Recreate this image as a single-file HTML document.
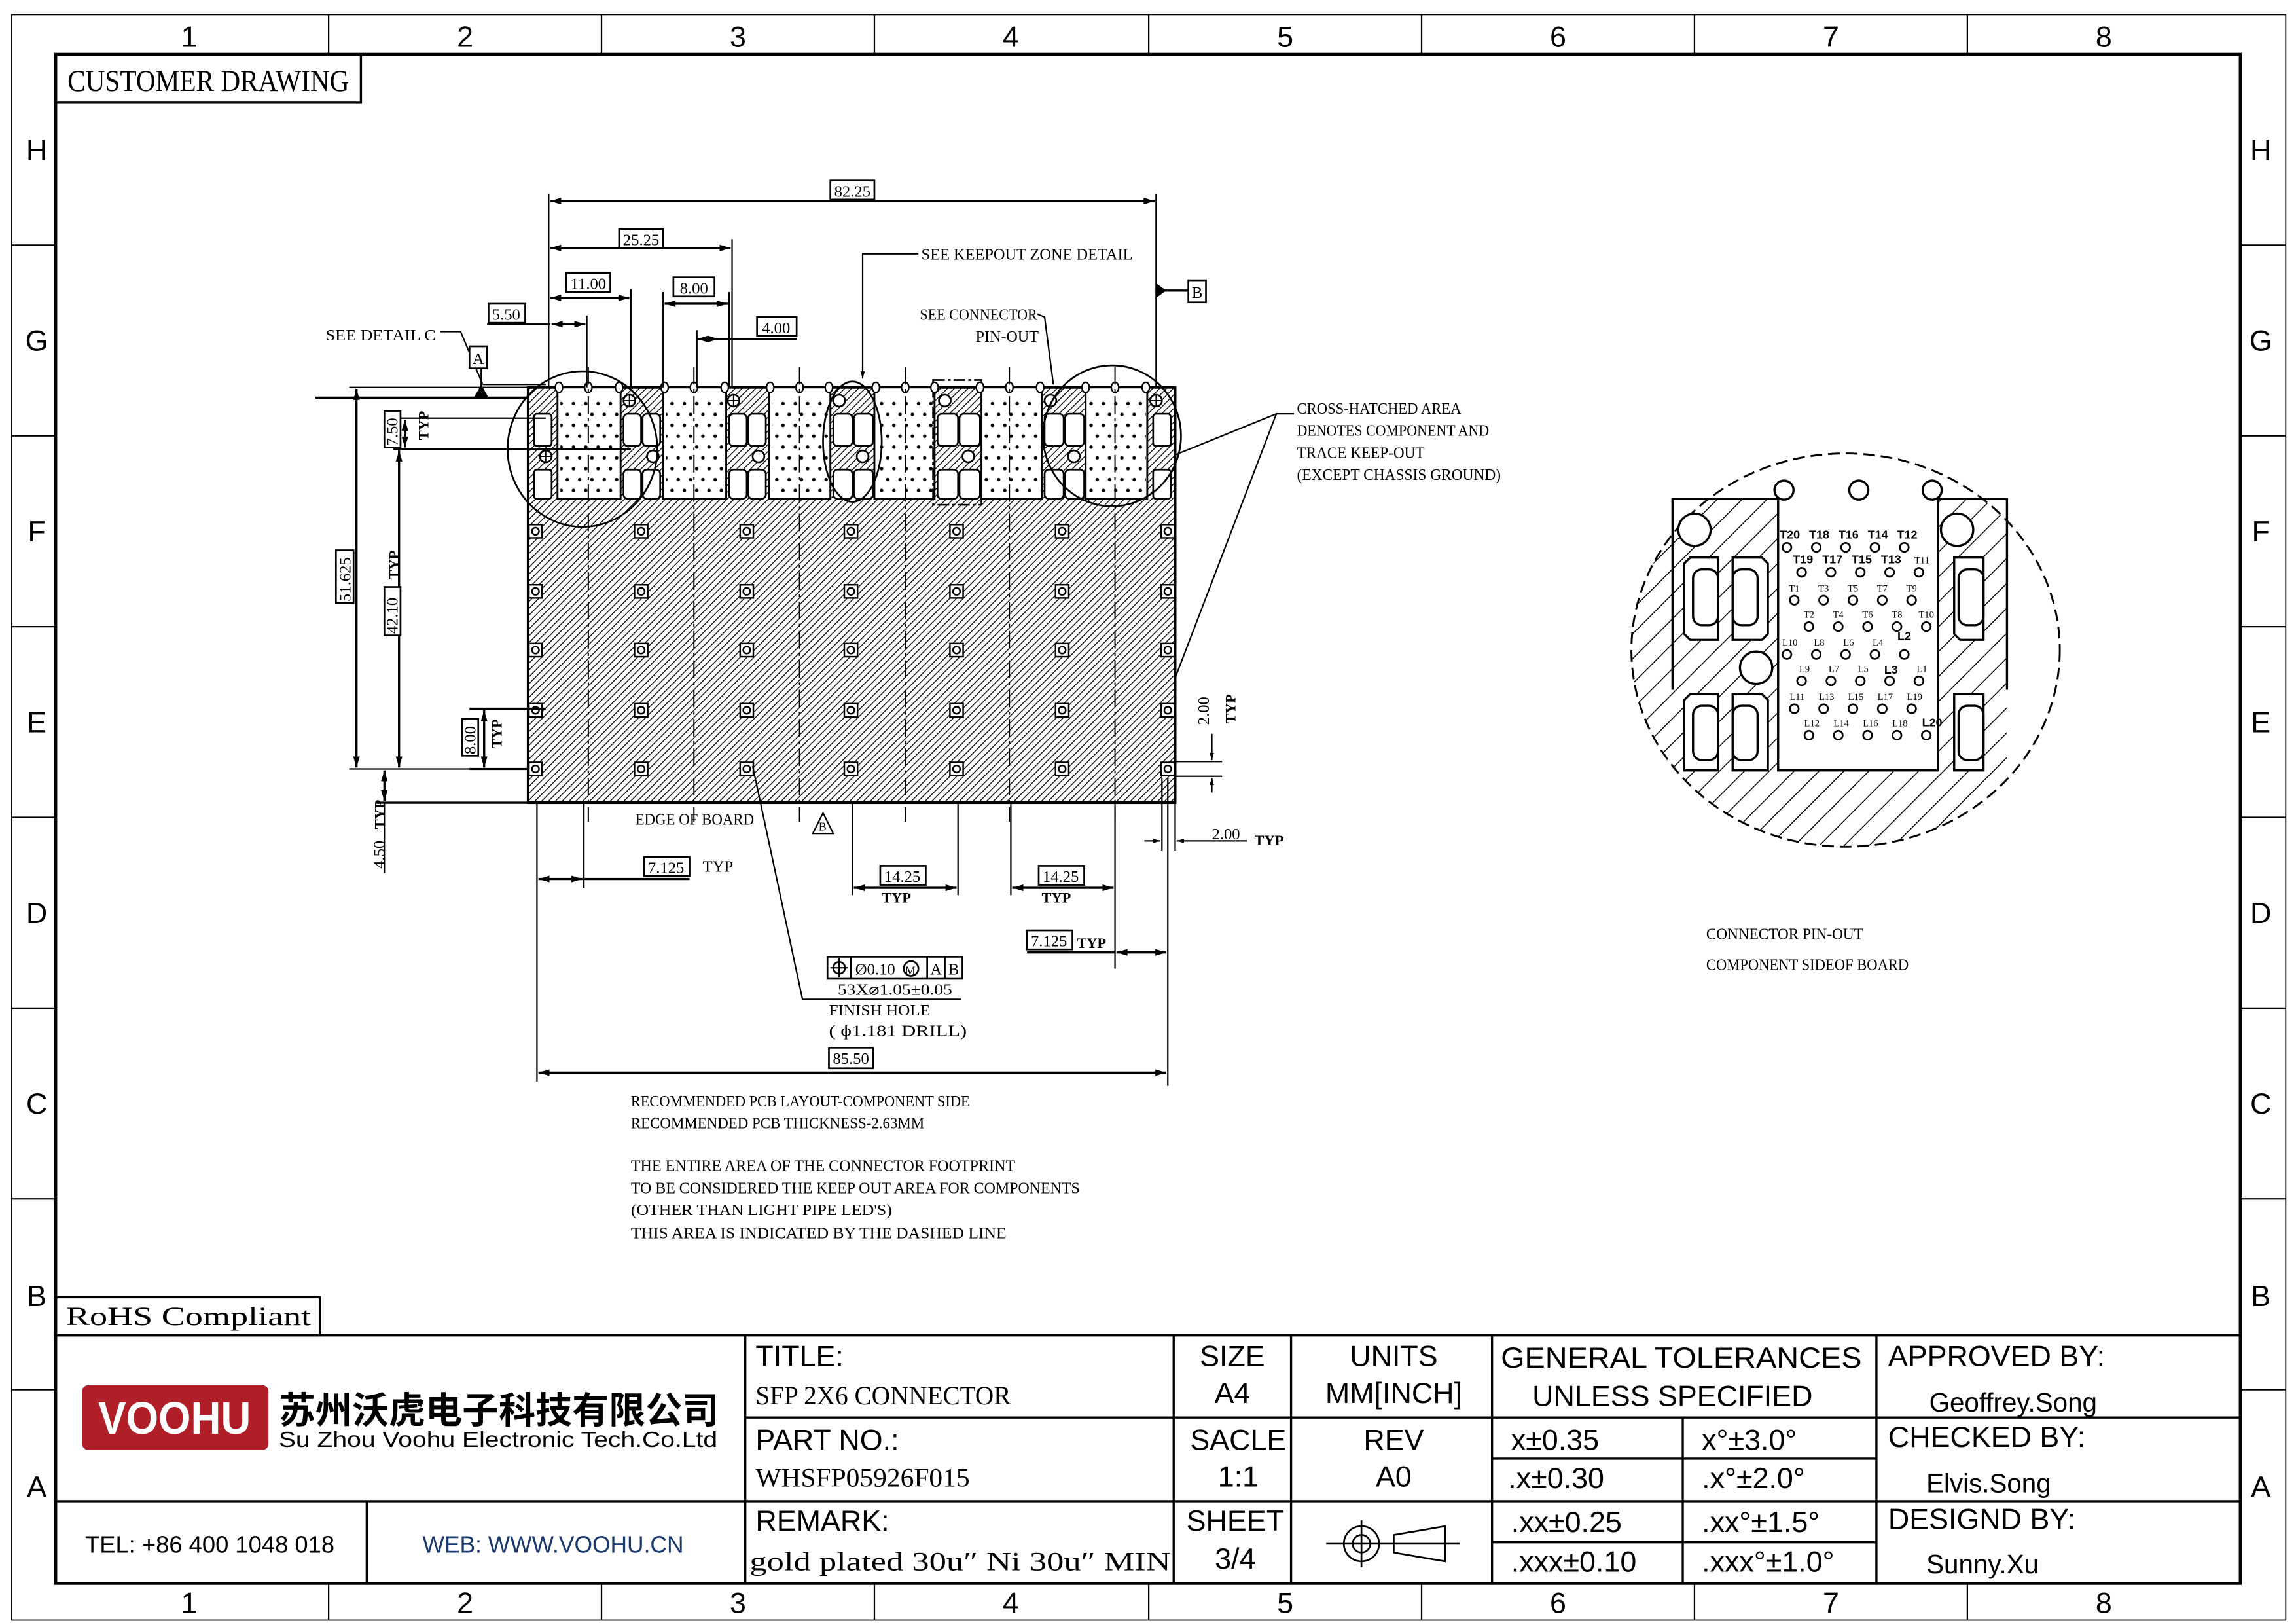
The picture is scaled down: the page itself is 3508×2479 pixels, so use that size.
<!DOCTYPE html>
<html><head><meta charset="utf-8"><style>
html,body{margin:0;padding:0;background:#fff;}
svg{display:block;}
.s{font-family:"Liberation Serif",serif;}
.a{font-family:"Liberation Sans","Noto Sans CJK SC",sans-serif;}
</style></head><body>
<svg width="3508" height="2479" viewBox="0 0 1565 1106" preserveAspectRatio="none" xmlns="http://www.w3.org/2000/svg">
<defs>
<pattern id="h" patternUnits="userSpaceOnUse" width="3.3" height="3.3" patternTransform="rotate(45)"><line x1="0" y1="0" x2="0" y2="3.3" stroke="#000" stroke-width="1.2"/></pattern>
<pattern id="hd" patternUnits="userSpaceOnUse" width="12" height="12" patternTransform="rotate(45)"><line x1="0" y1="0" x2="0" y2="12" stroke="#000" stroke-width="1.3"/></pattern>
<pattern id="dots" patternUnits="userSpaceOnUse" x="380" y="272" width="8.4" height="14.8"><circle cx="2.5" cy="3" r="1.2" fill="#000"/><circle cx="6.7" cy="10.4" r="1.2" fill="#000"/></pattern>
<marker id="ar" viewBox="0 0 10 10" refX="10" refY="5" markerWidth="7" markerHeight="5" orient="auto-start-reverse"><path d="M0,2 L10,5 L0,8 z" fill="#000"/></marker>
<g id="col" fill="#fff" stroke="#000" stroke-width="1.1"><rect x="-4.5" y="357.5" width="9" height="9"/><circle cx="0" cy="362" r="2.4"/><rect x="-4.5" y="398.5" width="9" height="9"/><circle cx="0" cy="403" r="2.4"/><rect x="-4.5" y="438.5" width="9" height="9"/><circle cx="0" cy="443" r="2.4"/><rect x="-4.5" y="479.5" width="9" height="9"/><circle cx="0" cy="484" r="2.4"/><rect x="-4.5" y="519.5" width="9" height="9"/><circle cx="0" cy="524" r="2.4"/></g>
</defs>
<rect width="1565" height="1106" fill="#fff"/>
<!-- frame -->
<g stroke="#000" fill="none">
<rect x="8" y="10" width="1550" height="1094" stroke-width="0.8"/>
<rect x="38" y="37" width="1489" height="1042" stroke-width="2"/>
<g stroke-width="1">
<line x1="224" y1="10" x2="224" y2="37"/><line x1="410" y1="10" x2="410" y2="37"/><line x1="596" y1="10" x2="596" y2="37"/><line x1="783" y1="10" x2="783" y2="37"/><line x1="969" y1="10" x2="969" y2="37"/><line x1="1155" y1="10" x2="1155" y2="37"/><line x1="1341" y1="10" x2="1341" y2="37"/>
<line x1="224" y1="1079" x2="224" y2="1104"/><line x1="410" y1="1079" x2="410" y2="1104"/><line x1="596" y1="1079" x2="596" y2="1104"/><line x1="783" y1="1079" x2="783" y2="1104"/><line x1="969" y1="1079" x2="969" y2="1104"/><line x1="1155" y1="1079" x2="1155" y2="1104"/><line x1="1341" y1="1079" x2="1341" y2="1104"/>
<line x1="8" y1="167" x2="38" y2="167"/><line x1="8" y1="297" x2="38" y2="297"/><line x1="8" y1="427" x2="38" y2="427"/><line x1="8" y1="557" x2="38" y2="557"/><line x1="8" y1="687" x2="38" y2="687"/><line x1="8" y1="817" x2="38" y2="817"/><line x1="8" y1="947" x2="38" y2="947"/>
<line x1="1527" y1="167" x2="1558" y2="167"/><line x1="1527" y1="297" x2="1558" y2="297"/><line x1="1527" y1="427" x2="1558" y2="427"/><line x1="1527" y1="557" x2="1558" y2="557"/><line x1="1527" y1="687" x2="1558" y2="687"/><line x1="1527" y1="817" x2="1558" y2="817"/><line x1="1527" y1="947" x2="1558" y2="947"/>
</g></g>
<g class="a" font-size="20" text-anchor="middle" fill="#000">
<text x="129" y="32">1</text><text x="317" y="32">2</text><text x="503" y="32">3</text><text x="689" y="32">4</text><text x="876" y="32">5</text><text x="1062" y="32">6</text><text x="1248" y="32">7</text><text x="1434" y="32">8</text>
<text x="129" y="1099">1</text><text x="317" y="1099">2</text><text x="503" y="1099">3</text><text x="689" y="1099">4</text><text x="876" y="1099">5</text><text x="1062" y="1099">6</text><text x="1248" y="1099">7</text><text x="1434" y="1099">8</text>
<text x="25" y="109">H</text><text x="25" y="239">G</text><text x="25" y="369">F</text><text x="25" y="499">E</text><text x="25" y="629">D</text><text x="25" y="759">C</text><text x="25" y="890">B</text><text x="25" y="1020">A</text>
<text x="1541" y="109">H</text><text x="1541" y="239">G</text><text x="1541" y="369">F</text><text x="1541" y="499">E</text><text x="1541" y="629">D</text><text x="1541" y="759">C</text><text x="1541" y="890">B</text><text x="1541" y="1020">A</text>
</g>
<rect x="38" y="37" width="208" height="33" fill="none" stroke="#000" stroke-width="1.5"/>
<text class="s" x="46" y="62" font-size="21" textLength="192" lengthAdjust="spacingAndGlyphs">CUSTOMER DRAWING</text>
<rect x="38" y="884" width="180" height="26" fill="none" stroke="#000" stroke-width="1.5"/>
<text class="s" x="45" y="903" font-size="18" textLength="167" lengthAdjust="spacingAndGlyphs">RoHS Compliant</text>

<!-- BOARD -->
<rect x="360" y="264" width="441" height="283" fill="url(#h)" stroke="#000" stroke-width="1.8"/>
<g fill="#fff" stroke="#000" stroke-width="1.3">
<rect x="380" y="264" width="43" height="76"/><rect x="452" y="264" width="43" height="76"/><rect x="524" y="264" width="42" height="76"/><rect x="596" y="264" width="41" height="76"/><rect x="669" y="264" width="41" height="76"/><rect x="740" y="264" width="42" height="76"/>
</g>
<g fill="url(#dots)">
<rect x="382" y="272" width="40" height="66"/><rect x="454" y="272" width="40" height="66"/><rect x="526" y="272" width="39" height="66"/><rect x="598" y="272" width="38" height="66"/><rect x="671" y="272" width="38" height="66"/><rect x="742" y="272" width="39" height="66"/>
</g>
<g fill="#fff" stroke="#000" stroke-width="1.2">
<rect x="364" y="282" width="12" height="22" rx="2"/><rect x="364" y="320" width="12" height="20" rx="2"/>
<rect x="786" y="282" width="12" height="22" rx="2"/><rect x="786" y="320" width="12" height="20" rx="2"/>
<rect x="425" y="282" width="12" height="22" rx="3"/><rect x="438" y="282" width="12" height="22" rx="3"/><rect x="425" y="320" width="12" height="20" rx="3"/><rect x="438" y="320" width="12" height="20" rx="3"/>
<rect x="497" y="282" width="12" height="22" rx="3"/><rect x="510" y="282" width="12" height="22" rx="3"/><rect x="497" y="320" width="12" height="20" rx="3"/><rect x="510" y="320" width="12" height="20" rx="3"/>
<rect x="568" y="282" width="13" height="22" rx="3"/><rect x="582" y="282" width="13" height="22" rx="3"/><rect x="568" y="320" width="13" height="20" rx="3"/><rect x="582" y="320" width="13" height="20" rx="3"/>
<rect x="639" y="282" width="14" height="22" rx="3"/><rect x="654" y="282" width="14" height="22" rx="3"/><rect x="639" y="320" width="14" height="20" rx="3"/><rect x="654" y="320" width="14" height="20" rx="3"/>
<rect x="712" y="282" width="13" height="22" rx="3"/><rect x="726" y="282" width="13" height="22" rx="3"/><rect x="712" y="320" width="13" height="20" rx="3"/><rect x="726" y="320" width="13" height="20" rx="3"/>
<circle cx="445" cy="311" r="4"/><circle cx="517" cy="311" r="4"/><circle cx="588" cy="311" r="4"/><circle cx="660" cy="311" r="4"/><circle cx="732" cy="311" r="4"/>
<circle cx="572" cy="273" r="4"/><circle cx="644" cy="273" r="4"/><circle cx="716" cy="273" r="4"/>
<circle cx="429" cy="273" r="4"/><circle cx="500" cy="273" r="4"/><circle cx="788" cy="273" r="4"/><circle cx="372" cy="311" r="4"/>
</g>
<g stroke="#000" stroke-width="0.8"><line x1="425" y1="273" x2="433" y2="273"/><line x1="429" y1="269" x2="429" y2="277"/><line x1="496" y1="273" x2="504" y2="273"/><line x1="500" y1="269" x2="500" y2="277"/><line x1="784" y1="273" x2="792" y2="273"/><line x1="788" y1="269" x2="788" y2="277"/><line x1="368" y1="311" x2="376" y2="311"/><line x1="372" y1="307" x2="372" y2="315"/></g>
<rect x="636" y="259" width="33" height="85" fill="none" stroke="#000" stroke-width="1.2" stroke-dasharray="8 2 2 2"/>
<line x1="355" y1="264" x2="801" y2="264" stroke="#000" stroke-width="0.9" stroke-dasharray="6 3"/>
<g fill="#fff" stroke="#000" stroke-width="1">
<ellipse cx="381" cy="264" rx="2.5" ry="3.5"/><ellipse cx="401" cy="264" rx="2.5" ry="3.5"/><ellipse cx="422" cy="264" rx="2.5" ry="3.5"/><ellipse cx="453" cy="264" rx="2.5" ry="3.5"/><ellipse cx="473" cy="264" rx="2.5" ry="3.5"/><ellipse cx="494" cy="264" rx="2.5" ry="3.5"/><ellipse cx="525" cy="264" rx="2.5" ry="3.5"/><ellipse cx="545" cy="264" rx="2.5" ry="3.5"/><ellipse cx="565" cy="264" rx="2.5" ry="3.5"/><ellipse cx="597" cy="264" rx="2.5" ry="3.5"/><ellipse cx="617" cy="264" rx="2.5" ry="3.5"/><ellipse cx="637" cy="264" rx="2.5" ry="3.5"/><ellipse cx="668" cy="264" rx="2.5" ry="3.5"/><ellipse cx="688" cy="264" rx="2.5" ry="3.5"/><ellipse cx="709" cy="264" rx="2.5" ry="3.5"/><ellipse cx="740" cy="264" rx="2.5" ry="3.5"/><ellipse cx="760" cy="264" rx="2.5" ry="3.5"/><ellipse cx="781" cy="264" rx="2.5" ry="3.5"/>
</g>
<use href="#col" x="365"/><use href="#col" x="437"/><use href="#col" x="509"/><use href="#col" x="580"/><use href="#col" x="652"/><use href="#col" x="724"/><use href="#col" x="796"/>
<g stroke="#000" stroke-width="0.9" stroke-dasharray="12 3 2 3">
<line x1="401" y1="250" x2="401" y2="560"/><line x1="473" y1="250" x2="473" y2="560"/><line x1="545" y1="250" x2="545" y2="560"/><line x1="617" y1="250" x2="617" y2="560"/><line x1="688" y1="250" x2="688" y2="560"/><line x1="760" y1="250" x2="760" y2="560"/>
</g>
<g fill="none" stroke="#000" stroke-width="1.2">
<ellipse cx="397" cy="306" rx="51" ry="53"/><ellipse cx="758" cy="297" rx="47" ry="48"/><ellipse cx="581" cy="301" rx="20" ry="41"/>
</g>
<!-- dimensions top -->
<g stroke="#000" stroke-width="1" fill="none">
<line x1="374" y1="132" x2="374" y2="264"/><line x1="788" y1="132" x2="788" y2="264"/>
<line x1="375" y1="137" x2="787" y2="137" stroke-width="1.5" marker-start="url(#ar)" marker-end="url(#ar)"/>
<line x1="499" y1="163" x2="499" y2="264"/>
<line x1="375" y1="169" x2="498" y2="169" stroke-width="1.5" marker-start="url(#ar)" marker-end="url(#ar)"/>
<line x1="430" y1="197" x2="430" y2="264"/>
<line x1="375" y1="203" x2="429" y2="203" stroke-width="1.5" marker-start="url(#ar)" marker-end="url(#ar)"/>
<line x1="452" y1="199" x2="452" y2="264"/><line x1="497" y1="199" x2="497" y2="264"/>
<line x1="453" y1="207" x2="496" y2="207" stroke-width="1.5" marker-start="url(#ar)" marker-end="url(#ar)"/>
<line x1="400" y1="215" x2="400" y2="264"/>
<line x1="332" y1="221" x2="375" y2="221" stroke-width="1.5"/><line x1="376" y1="221" x2="399" y2="221" stroke-width="1.5" marker-start="url(#ar)" marker-end="url(#ar)"/>
<line x1="475" y1="225" x2="475" y2="264"/>
<line x1="475" y1="231" x2="490" y2="231" stroke-width="1.5" marker-start="url(#ar)" marker-end="url(#ar)"/><line x1="490" y1="231" x2="543" y2="231" stroke-width="1.5"/>
<polyline points="300,226 314,226 329,262" /><line x1="329" y1="262" x2="372" y2="262"/>
<line x1="328" y1="250" x2="328" y2="271"/>
<line x1="215" y1="271" x2="360" y2="271" stroke-width="1.5"/>
<polyline points="626,173 588,173 588,258" marker-end="url(#ar)"/>
<polyline points="707,214 712,216 718,262"/>
<line x1="788" y1="198" x2="810" y2="198" stroke-width="1.5"/>
</g>
<path d="M323,271 L328,262 L333,271 z" fill="#000"/>
<path d="M788,193 L795,198 L788,203 z" fill="#000"/>
<g fill="#fff" stroke="#000" stroke-width="1.2">
<rect x="566" y="123" width="30" height="13"/><rect x="422" y="156" width="30" height="13"/><rect x="386" y="186" width="30" height="13"/><rect x="459" y="189" width="28" height="13"/><rect x="333" y="207" width="25" height="13"/><rect x="516" y="216" width="27" height="13"/><rect x="320" y="236" width="12" height="15"/><rect x="810" y="191" width="12" height="15"/>
</g>
<g class="s" font-size="11" text-anchor="middle">
<text x="581" y="134">82.25</text><text x="437" y="167">25.25</text><text x="401" y="197">11.00</text><text x="473" y="200">8.00</text><text x="345" y="218">5.50</text><text x="529" y="227">4.00</text><text x="326" y="248">A</text><text x="816" y="203">B</text>
</g>
<g class="s" font-size="11">
<text x="222" y="232" textLength="75" lengthAdjust="spacingAndGlyphs">SEE DETAIL C</text>
<text x="628" y="177" textLength="144" lengthAdjust="spacingAndGlyphs">SEE KEEPOUT ZONE DETAIL</text>
<text x="627" y="218" textLength="80" lengthAdjust="spacingAndGlyphs">SEE CONNECTOR</text><text x="665" y="233" textLength="43" lengthAdjust="spacingAndGlyphs">PIN-OUT</text>
<text x="884" y="282" textLength="112" lengthAdjust="spacingAndGlyphs">CROSS-HATCHED AREA</text><text x="884" y="297" textLength="131" lengthAdjust="spacingAndGlyphs">DENOTES COMPONENT AND</text><text x="884" y="312" textLength="87" lengthAdjust="spacingAndGlyphs">TRACE KEEP-OUT</text><text x="884" y="327" textLength="139" lengthAdjust="spacingAndGlyphs">(EXCEPT CHASSIS GROUND)</text>
</g>
<g stroke="#000" stroke-width="1" fill="none"><polyline points="882,282 870,282 801,310"/><line x1="870" y1="282" x2="801" y2="462"/></g>
<!-- left dims -->
<g stroke="#000" stroke-width="1" fill="none">
<line x1="238" y1="264" x2="360" y2="264"/><line x1="238" y1="524" x2="360" y2="524"/>
<line x1="243" y1="265" x2="243" y2="523" stroke-width="1.5" marker-start="url(#ar)" marker-end="url(#ar)"/>
<line x1="268" y1="306" x2="430" y2="306"/>
<line x1="272" y1="307" x2="272" y2="523" stroke-width="1.5" marker-start="url(#ar)" marker-end="url(#ar)"/>
<line x1="262" y1="285" x2="372" y2="285"/>
<line x1="276" y1="286" x2="276" y2="305" stroke-width="1.5" marker-start="url(#ar)" marker-end="url(#ar)"/>
<line x1="320" y1="483" x2="372" y2="483" stroke-width="1.5"/><line x1="320" y1="524" x2="360" y2="524" stroke-width="1.5"/>
<line x1="330" y1="484" x2="330" y2="523" stroke-width="1.5" marker-start="url(#ar)" marker-end="url(#ar)"/>
<line x1="256" y1="547" x2="360" y2="547" stroke-width="1.5"/>
<line x1="262" y1="525" x2="262" y2="546" stroke-width="1.5" marker-start="url(#ar)" marker-end="url(#ar)"/>
<line x1="262" y1="547" x2="262" y2="595"/>
</g>
<g fill="#fff" stroke="#000" stroke-width="1.2"><rect x="229" y="375" width="12" height="36"/><rect x="262" y="400" width="11" height="33"/><rect x="262" y="280" width="11" height="25"/><rect x="315" y="490" width="11" height="25"/></g>
<g class="s" font-size="11">
<text transform="translate(239,410) rotate(-90)">51.625</text>
<text transform="translate(271,432) rotate(-90)">42.10</text>
<text transform="translate(271,304) rotate(-90)">7.50</text>
<text transform="translate(324,514) rotate(-90)">8.00</text>
<text transform="translate(262,592) rotate(-90)">4.50</text>
<text transform="translate(824,494) rotate(-90)">2.00</text>
</g>
<g class="s" font-size="10" font-weight="bold">
<text transform="translate(272,395) rotate(-90)">TYP</text>
<text transform="translate(292,300) rotate(-90)">TYP</text>
<text transform="translate(342,510) rotate(-90)">TYP</text>
<text transform="translate(262,565) rotate(-90)">TYP</text>
<text transform="translate(842,493) rotate(-90)">TYP</text>
</g>
<g stroke="#000" stroke-width="1" fill="none">
<line x1="801" y1="519" x2="833" y2="519"/><line x1="801" y1="529" x2="833" y2="529"/>
<line x1="826" y1="500" x2="826" y2="518" marker-end="url(#ar)"/><line x1="826" y1="540" x2="826" y2="530" marker-end="url(#ar)"/>
<line x1="792" y1="530" x2="792" y2="580"/><line x1="796" y1="530" x2="796" y2="740"/><line x1="801" y1="547" x2="801" y2="580"/>
<line x1="780" y1="573" x2="791" y2="573" marker-end="url(#ar)"/><line x1="850" y1="573" x2="802" y2="573" marker-end="url(#ar)"/>
</g>
<text class="s" x="826" y="572" font-size="11">2.00</text><text class="s" x="855" y="576" font-size="10" font-weight="bold">TYP</text>
<!-- bottom dims -->
<g stroke="#000" stroke-width="1" fill="none">
<line x1="366" y1="547" x2="366" y2="737"/><line x1="398" y1="547" x2="398" y2="605"/>
<line x1="367" y1="599" x2="397" y2="599" stroke-width="1.5" marker-start="url(#ar)" marker-end="url(#ar)"/><line x1="398" y1="599" x2="470" y2="599" stroke-width="1.5"/>
<line x1="581" y1="547" x2="581" y2="610"/><line x1="653" y1="547" x2="653" y2="610"/>
<line x1="582" y1="605" x2="652" y2="605" stroke-width="1.5" marker-start="url(#ar)" marker-end="url(#ar)"/>
<line x1="689" y1="547" x2="689" y2="610"/><line x1="760" y1="547" x2="760" y2="660"/>
<line x1="690" y1="605" x2="759" y2="605" stroke-width="1.5" marker-start="url(#ar)" marker-end="url(#ar)"/>
<line x1="700" y1="649" x2="760" y2="649" stroke-width="1.5"/><line x1="761" y1="649" x2="795" y2="649" stroke-width="1.5" marker-start="url(#ar)" marker-end="url(#ar)"/>
<line x1="367" y1="731" x2="795" y2="731" stroke-width="1.5" marker-start="url(#ar)" marker-end="url(#ar)"/>
<polyline points="513,522 547,681 655,681"/>
</g>
<path d="M561,554 L568,568 L554,568 z" fill="#fff" stroke="#000" stroke-width="1"/><text class="s" x="558" y="566" font-size="8">B</text>
<g fill="#fff" stroke="#000" stroke-width="1.2">
<rect x="439" y="584" width="31" height="13"/><rect x="600" y="590" width="31" height="13"/><rect x="708" y="590" width="31" height="13"/><rect x="700" y="634" width="31" height="13"/><rect x="565" y="714" width="30" height="14"/>
<rect x="564" y="652" width="92" height="15"/></g>
<g stroke="#000" stroke-width="1.2"><line x1="580" y1="652" x2="580" y2="667"/><line x1="632" y1="652" x2="632" y2="667"/><line x1="644" y1="652" x2="644" y2="667"/></g>
<circle cx="572" cy="659.5" r="4" fill="none" stroke="#000" stroke-width="1.2"/><line x1="566" y1="659.5" x2="578" y2="659.5" stroke="#000"/><line x1="572" y1="653" x2="572" y2="666" stroke="#000"/>
<circle cx="621" cy="660" r="5" fill="none" stroke="#000" stroke-width="1.2"/>
<g class="s" font-size="11" text-anchor="middle">
<text x="454" y="595">7.125</text><text x="615" y="601">14.25</text><text x="723" y="601">14.25</text><text x="715" y="645">7.125</text><text x="580" y="725">85.50</text>
<text x="650" y="664">B</text><text x="638" y="664">A</text>
</g>
<text class="s" x="583" y="664" font-size="11">Ø0.10</text><text class="s" x="617" y="664" font-size="8">M</text>
<g class="s" font-size="10" font-weight="bold" text-anchor="middle"><text x="611" y="615">TYP</text><text x="720" y="615">TYP</text><text x="744" y="646">TYP</text></g>
<g class="s" font-size="11">
<text x="479" y="594">TYP</text>
<text x="433" y="562" textLength="81" lengthAdjust="spacingAndGlyphs">EDGE OF BOARD</text>
<text x="571" y="678" textLength="78" lengthAdjust="spacingAndGlyphs">53X⌀1.05±0.05</text>
<text x="565" y="692" textLength="69" lengthAdjust="spacingAndGlyphs">FINISH HOLE</text>
<text x="565" y="706" textLength="94" lengthAdjust="spacingAndGlyphs">( ɸ1.181 DRILL)</text>
<text x="430" y="754" textLength="231" lengthAdjust="spacingAndGlyphs">RECOMMENDED PCB LAYOUT-COMPONENT SIDE</text>
<text x="430" y="769" textLength="200" lengthAdjust="spacingAndGlyphs">RECOMMENDED PCB THICKNESS-2.63MM</text>
<text x="430" y="798" textLength="262" lengthAdjust="spacingAndGlyphs">THE ENTIRE AREA OF THE CONNECTOR FOOTPRINT</text>
<text x="430" y="813" textLength="306" lengthAdjust="spacingAndGlyphs">TO BE CONSIDERED THE KEEP OUT AREA FOR COMPONENTS</text>
<text x="430" y="828" textLength="178" lengthAdjust="spacingAndGlyphs">(OTHER THAN LIGHT PIPE LED'S)</text>
<text x="430" y="844" textLength="256" lengthAdjust="spacingAndGlyphs">THIS AREA IS INDICATED BY THE DASHED LINE</text>
<text x="1163" y="640" textLength="107" lengthAdjust="spacingAndGlyphs">CONNECTOR PIN-OUT</text>
<text x="1163" y="661" textLength="138" lengthAdjust="spacingAndGlyphs">COMPONENT SIDEOF BOARD</text>
</g>

<!-- DETAIL VIEW -->
<clipPath id="dc"><ellipse cx="1258" cy="443" rx="146" ry="134"/></clipPath>
<g clip-path="url(#dc)">
<path d="M1140,340 L1212,340 L1212,525 L1321,525 L1321,340 L1368,340 L1368,600 L1100,600 L1100,340 L1140,340 z" fill="url(#hd)" stroke="none"/>
</g>
<g fill="none" stroke="#000" stroke-width="1.5">
<polyline points="1140,470 1140,340 1212,340 1212,525 1321,525 1321,340 1368,340 1368,470"/>
</g>
<ellipse cx="1258" cy="443" rx="146" ry="134" fill="none" stroke="#000" stroke-width="1.3" stroke-dasharray="8 4"/>
<g fill="#fff" stroke="#000" stroke-width="1.5">
<circle cx="1216" cy="334" r="6.5"/><circle cx="1267" cy="334" r="6.5"/><circle cx="1317" cy="334" r="6.5"/>
<circle cx="1155" cy="361" r="11"/><circle cx="1334" cy="361" r="11"/><circle cx="1197" cy="455" r="11"/>
<path d="M1148,384 L1152,380 L1171,380 L1171,436 L1152,436 L1148,432 z"/><path d="M1181,380 L1201,380 L1205,384 L1205,432 L1201,436 L1181,436 z"/>
<path d="M1148,477 L1152,473 L1171,473 L1171,525 L1148,525 z"/><path d="M1181,473 L1201,473 L1205,477 L1205,525 L1181,525 z"/>
<path d="M1332,380 L1352,380 L1352,436 L1336,436 L1332,432 z"/><path d="M1332,473 L1352,473 L1352,525 L1332,525 z"/>
<rect x="1154" y="388" width="17" height="38" rx="6"/><rect x="1181" y="388" width="17" height="38" rx="6"/>
<rect x="1154" y="481" width="17" height="37" rx="6"/><rect x="1181" y="481" width="17" height="37" rx="6"/>
<rect x="1335" y="388" width="17" height="38" rx="6"/><rect x="1335" y="481" width="17" height="37" rx="6"/>
</g>
<g fill="#fff" stroke="#000" stroke-width="1.2">
<circle cx="1218" cy="373" r="3"/><circle cx="1238" cy="373" r="3"/><circle cx="1258" cy="373" r="3"/><circle cx="1278" cy="373" r="3"/><circle cx="1298" cy="373" r="3"/>
<circle cx="1228" cy="390" r="3"/><circle cx="1248" cy="390" r="3"/><circle cx="1268" cy="390" r="3"/><circle cx="1288" cy="390" r="3"/><circle cx="1308" cy="390" r="3"/>
<circle cx="1223" cy="409" r="3"/><circle cx="1243" cy="409" r="3"/><circle cx="1263" cy="409" r="3"/><circle cx="1283" cy="409" r="3"/><circle cx="1303" cy="409" r="3"/>
<circle cx="1233" cy="427" r="3"/><circle cx="1253" cy="427" r="3"/><circle cx="1273" cy="427" r="3"/><circle cx="1293" cy="427" r="3"/><circle cx="1313" cy="427" r="3"/>
<circle cx="1218" cy="446" r="3"/><circle cx="1238" cy="446" r="3"/><circle cx="1258" cy="446" r="3"/><circle cx="1278" cy="446" r="3"/><circle cx="1298" cy="446" r="3"/>
<circle cx="1228" cy="464" r="3"/><circle cx="1248" cy="464" r="3"/><circle cx="1268" cy="464" r="3"/><circle cx="1288" cy="464" r="3"/><circle cx="1308" cy="464" r="3"/>
<circle cx="1223" cy="483" r="3"/><circle cx="1243" cy="483" r="3"/><circle cx="1263" cy="483" r="3"/><circle cx="1283" cy="483" r="3"/><circle cx="1303" cy="483" r="3"/>
<circle cx="1233" cy="501" r="3"/><circle cx="1253" cy="501" r="3"/><circle cx="1273" cy="501" r="3"/><circle cx="1293" cy="501" r="3"/><circle cx="1313" cy="501" r="3"/>
</g>
<g class="a" font-size="8" font-weight="bold" text-anchor="middle">
<text x="1220" y="367">T20</text><text x="1240" y="367">T18</text><text x="1260" y="367">T16</text><text x="1280" y="367">T14</text><text x="1300" y="367">T12</text>
<text x="1229" y="384">T19</text><text x="1249" y="384">T17</text><text x="1269" y="384">T15</text><text x="1289" y="384">T13</text>
<text x="1298" y="436">L2</text><text x="1289" y="459">L3</text><text x="1317" y="495">L20</text>
</g>
<g class="s" font-size="6.5" text-anchor="middle">
<text x="1310" y="384">T11</text>
<text x="1223" y="403">T1</text><text x="1243" y="403">T3</text><text x="1263" y="403">T5</text><text x="1283" y="403">T7</text><text x="1303" y="403">T9</text>
<text x="1233" y="421">T2</text><text x="1253" y="421">T4</text><text x="1273" y="421">T6</text><text x="1293" y="421">T8</text><text x="1313" y="421">T10</text>
<text x="1220" y="440">L10</text><text x="1240" y="440">L8</text><text x="1260" y="440">L6</text><text x="1280" y="440">L4</text>
<text x="1230" y="458">L9</text><text x="1250" y="458">L7</text><text x="1270" y="458">L5</text><text x="1310" y="458">L1</text>
<text x="1225" y="477">L11</text><text x="1245" y="477">L13</text><text x="1265" y="477">L15</text><text x="1285" y="477">L17</text><text x="1305" y="477">L19</text>
<text x="1235" y="495">L12</text><text x="1255" y="495">L14</text><text x="1275" y="495">L16</text><text x="1295" y="495">L18</text>
</g>

<!-- TITLE BLOCK -->
<g stroke="#000" stroke-width="1.5" fill="none">
<line x1="38" y1="910" x2="1527" y2="910"/>
<line x1="508" y1="910" x2="508" y2="1079"/>
<line x1="38" y1="1023" x2="1527" y2="1023"/>
<line x1="250" y1="1023" x2="250" y2="1079"/>
<line x1="508" y1="966" x2="1527" y2="966"/>
<line x1="800" y1="910" x2="800" y2="1079"/>
<line x1="880" y1="910" x2="880" y2="1079"/>
<line x1="1017" y1="910" x2="1017" y2="1079"/>
<line x1="1279" y1="910" x2="1279" y2="1079"/>
<line x1="1147" y1="966" x2="1147" y2="1079"/>
<line x1="1017" y1="994" x2="1279" y2="994"/>
<line x1="1017" y1="1051" x2="1279" y2="1051"/>
</g>
<rect x="56" y="944" width="127" height="44" rx="4" fill="#b01e28"/>
<text class="a" x="119" y="977" font-size="31" font-weight="bold" fill="#fff" text-anchor="middle" textLength="104" lengthAdjust="spacingAndGlyphs">VOOHU</text>
<text class="a" x="190" y="970" font-size="25" font-weight="bold" textLength="300" lengthAdjust="spacingAndGlyphs">苏州沃虎电子科技有限公司</text>
<text class="a" x="190" y="986" font-size="15" textLength="299" lengthAdjust="spacingAndGlyphs">Su Zhou Voohu Electronic Tech.Co.Ltd</text>
<text class="a" x="58" y="1058" font-size="16" textLength="170" lengthAdjust="spacingAndGlyphs">TEL: +86 400 1048 018</text>
<text class="a" x="288" y="1058" font-size="16" fill="#1a3a6e" textLength="178" lengthAdjust="spacingAndGlyphs">WEB: WWW.VOOHU.CN</text>
<g class="a" font-size="20">
<text x="515" y="931">TITLE:</text><text x="515" y="988">PART NO.:</text><text x="515" y="1043">REMARK:</text>
<text x="1287" y="931">APPROVED BY:</text><text x="1315" y="962" font-size="18">Geoffrey.Song</text>
<text x="1287" y="986">CHECKED BY:</text><text x="1313" y="1017" font-size="18">Elvis.Song</text>
<text x="1287" y="1042">DESIGND BY:</text><text x="1313" y="1072" font-size="18">Sunny.Xu</text>
<text x="1030" y="988">x±0.35</text><text x="1160" y="988">x°±3.0°</text>
<text x="1028" y="1014">.x±0.30</text><text x="1160" y="1014">.x°±2.0°</text>
<text x="1030" y="1044">.xx±0.25</text><text x="1160" y="1044">.xx°±1.5°</text>
<text x="1030" y="1071">.xxx±0.10</text><text x="1160" y="1071">.xxx°±1.0°</text>
</g>
<g class="a" font-size="20" text-anchor="middle">
<text x="840" y="931">SIZE</text><text x="840" y="956">A4</text>
<text x="844" y="988">SACLE</text><text x="844" y="1013">1:1</text>
<text x="842" y="1043">SHEET</text><text x="842" y="1069">3/4</text>
<text x="950" y="931">UNITS</text><text x="950" y="956">MM[INCH]</text>
<text x="950" y="988">REV</text><text x="950" y="1013">A0</text>
<text x="1146" y="932" textLength="246" lengthAdjust="spacingAndGlyphs">GENERAL TOLERANCES</text>
<text x="1140" y="958">UNLESS SPECIFIED</text>
</g>
<g class="s" font-size="18">
<text x="515" y="957" textLength="174" lengthAdjust="spacingAndGlyphs">SFP 2X6 CONNECTOR</text>
<text x="515" y="1013" textLength="146" lengthAdjust="spacingAndGlyphs">WHSFP05926F015</text>
<text x="511" y="1070" textLength="287" lengthAdjust="spacingAndGlyphs">gold plated 30u″ Ni 30u″ MIN</text>
</g>
<g stroke="#000" stroke-width="1.2" fill="none">
<circle cx="928" cy="1052" r="12"/><circle cx="928" cy="1052" r="6"/>
<line x1="904" y1="1052" x2="995" y2="1052"/><line x1="928" y1="1036" x2="928" y2="1068"/>
<path d="M950,1046 L985,1040 L985,1064 L950,1058 z"/>
</g>
</svg>
</body></html>
